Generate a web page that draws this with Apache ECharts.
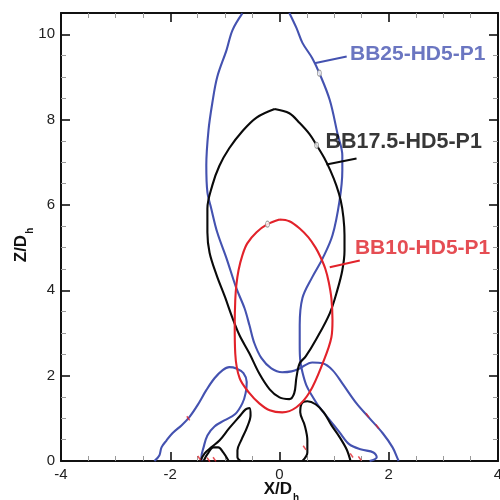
<!DOCTYPE html>
<html>
<head>
<meta charset="utf-8">
<script src="https://cdn.jsdelivr.net/npm/echarts@6/dist/echarts.min.js"></script>
<style>html,body{margin:0;padding:0;background:#fff}#c{width:500px;height:500px}</style>
</head>
<body>
<div id="c"></div>
<script>
// ---- data (X/Dh, Z/Dh) ----
const blueLeftArch = [[-2.29,0],[-2.20,0.13],[-2.16,0.32],[-2.07,0.48],[-1.96,0.65],[-1.79,0.84],[-1.65,1.03],[-1.50,1.31],[-1.34,1.66],[-1.19,1.94],[-1.04,2.13],[-0.92,2.20],[-0.79,2.17],[-0.66,2.06],[-0.60,1.85],[-0.62,1.59],[-0.68,1.35],[-0.81,1.10],[-1.01,0.95],[-1.19,0.81],[-1.32,0.60],[-1.39,0.32],[-1.43,0.09],[-1.43,0]];
const blueInnerRight = [[1.65,0],[1.78,0.09],[1.72,0.20],[1.50,0.27],[1.28,0.39],[1.10,0.67],[0.92,0.96],[0.73,1.26],[0.59,1.54],[0.49,1.78],[0.42,2.08],[0.38,2.36],[0.37,2.71],[0.37,3.18],[0.42,3.82],[0.60,4.31],[0.79,4.75],[0.97,5.29],[1.10,6.11],[1.15,6.81],[1.15,7.16],[1.06,7.68],[0.92,8.46],[0.73,9.09],[0.60,9.44],[0.42,9.80],[0.31,10.15],[0.18,10.5]];
const blueOuter = [[-0.68,10.49],[-0.86,10.10],[-0.97,9.63],[-1.14,9.00],[-1.23,8.39],[-1.30,7.75],[-1.34,6.93],[-1.32,6.30],[-1.25,5.92],[-1.14,5.36],[-0.97,4.75],[-0.79,4.05],[-0.64,3.58],[-0.55,3.18],[-0.46,2.76],[-0.33,2.41],[-0.15,2.17],[0.05,2.08],[0.22,2.10],[0.37,2.17],[0.60,2.31],[0.79,2.29],[0.97,2.13],[1.15,1.82],[1.41,1.35],[1.65,1.00],[1.89,0.65],[2.07,0.32],[2.16,0.06],[2.18,0]];
const blackLoop = [[-0.09,8.25],[0.18,8.15],[0.37,7.92],[0.55,7.66],[0.68,7.40],[0.82,7.10],[0.93,6.81],[1.04,6.46],[1.12,6.11],[1.17,5.71],[1.19,5.29],[1.19,4.93],[1.15,4.47],[1.06,4.01],[0.92,3.46],[0.68,2.87],[0.48,2.45],[0.37,2.29],[0.31,1.96],[0.27,1.59],[0.18,1.45],[0.00,1.49],[-0.18,1.68],[-0.37,2.05],[-0.55,2.52],[-0.73,2.94],[-0.86,3.35],[-1.00,3.85],[-1.15,4.35],[-1.28,4.88],[-1.32,5.36],[-1.32,5.92],[-1.23,6.46],[-1.10,6.92],[-0.92,7.33],[-0.68,7.73],[-0.42,8.05],[-0.09,8.25]];
const blackLeftArch = [[-1.45,0],[-1.37,0.18],[-1.25,0.32],[-1.10,0.48],[-0.92,0.77],[-0.73,1.05],[-0.62,1.21],[-0.55,1.24],[-0.53,1.07],[-0.60,0.77],[-0.70,0.49],[-0.77,0.25],[-0.77,0.09],[-0.71,0]];
const blackSmallArch = [[-1.39,0],[-1.32,0.16],[-1.21,0.32],[-1.12,0.32],[-1.03,0.20],[-0.93,0]];
const blackRightArch = [[0.42,0],[0.51,0.20],[0.51,0.48],[0.46,0.84],[0.38,1.14],[0.40,1.33],[0.51,1.40],[0.66,1.33],[0.81,1.14],[0.95,0.84],[1.10,0.56],[1.23,0.27],[1.30,0]];
const redLoop = [[0.00,5.66],[-0.22,5.55],[-0.42,5.36],[-0.59,5.10],[-0.68,4.82],[-0.75,4.47],[-0.79,4.12],[-0.81,3.76],[-0.82,3.18],[-0.81,2.52],[-0.73,1.94],[-0.55,1.59],[-0.37,1.35],[-0.18,1.19],[0.05,1.14],[0.31,1.26],[0.55,1.61],[0.79,2.29],[0.95,2.90],[0.97,3.30],[0.95,3.81],[0.90,4.20],[0.84,4.50],[0.75,4.78],[0.66,5.00],[0.53,5.24],[0.37,5.45],[0.18,5.62],[0.00,5.66]];
// small hollow circle markers on each contour
const markerPts = [[0.73,9.09],[0.68,7.40],[-0.22,5.55]];
// small red specks
const redSpecks = [[-1.67,1.00],[1.61,1.07],[1.79,0.81],[-1.47,0.07],[-1.19,0.04],[0.46,0.31],[1.32,0.13],[1.47,0.06],[-1.30,0.03]];
// labels and leader lines
const labelNames = ['BB25-HD5-P1','BB17.5-HD5-P1','BB10-HD5-P1'];
const labelPos = [[1.29,9.54],[0.84,7.48],[1.38,4.98]];
const leaderBlue = [[0.64,9.32],[1.23,9.48]];
const leaderBlack = [[0.86,6.95],[1.41,7.09]];
const leaderRed = [[0.92,4.54],[1.47,4.70]];
const xTicks = [-4,-2,0,2,4];
const yTicks = [0,2,4,6,8,10];

const BLUE = '#4452b0', BLACK = '#0a0a0a', RED = '#e2222a';
const FONT = 'Liberation Sans, Arial, sans-serif';

const chart = echarts.init(document.getElementById('c'));

function line(data, color, w) {
  return {type:'line', data, smooth:0.35, symbol:'none', lineStyle:{color, width:w||2.1}, z:3, silent:true};
}
const axisCommon = {
  type:'value', splitLine:{show:false},
  axisLine:{show:true, onZero:false, lineStyle:{color:'#111', width:2}},
  axisTick:{show:true, inside:true, length:9, lineStyle:{color:'#111', width:1.6}},
  minorTick:{show:true, splitNumber:4, length:5, lineStyle:{color:'#999', width:1}},
};
const nameRich = {a:{fontSize:17, fontWeight:'bold', color:'#111', fontFamily:FONT, lineHeight:20, verticalAlign:'bottom'}, s:{fontSize:10, fontWeight:'bold', color:'#111', fontFamily:FONT, lineHeight:14, verticalAlign:'bottom', padding:[0,0,-5,1]}};
const labelColors = ['#4654b2', '#050505', '#df2028'];
const labelSizes = [21,21.5,21];
const labelWeights = ['bold','bold','bold'];

chart.setOption({
  animation:false,
  grid:{left:61, right:2, top:13, bottom:39, containLabel:false, outerBoundsMode:'none'},
  xAxis:[
    Object.assign({}, axisCommon, {min:xTicks[0], max:xTicks[xTicks.length-1], interval:2, position:'bottom',
      axisLabel:{color:'#222', fontSize:15, fontFamily:FONT, margin:6},
      name:'{a|X/D}{s|h}', nameLocation:'middle', nameGap:17, nameMoveOverlap:false, nameTextStyle:{rich:nameRich, padding:[0,0,0,4]}}),
    Object.assign({}, axisCommon, {min:xTicks[0], max:xTicks[xTicks.length-1], interval:2, position:'top', axisLabel:{show:false}})
  ],
  yAxis:[
    Object.assign({}, axisCommon, {min:yTicks[0], max:10.5, interval:2, position:'left',
      axisLabel:{color:'#222', fontSize:15, fontFamily:FONT, margin:6, showMaxLabel:false},
      name:'{a|Z/D}{s|h}', nameLocation:'middle', nameRotate:90, nameGap:31, nameMoveOverlap:false, nameTextStyle:{rich:nameRich, padding:[0,16,0,0]}}),
    Object.assign({}, axisCommon, {min:yTicks[0], max:10.5, interval:2, position:'right', axisLabel:{show:false}})
  ],
  series:[
    line(blueLeftArch, BLUE), line(blueInnerRight, BLUE), line(blueOuter, BLUE),
    line(blackLoop, BLACK), line(blackLeftArch, BLACK), line(blackSmallArch, BLACK), line(blackRightArch, BLACK),
    line(redLoop, RED),
    {type:'line', data:leaderBlue, symbol:'none', lineStyle:{color:BLUE, width:2}, z:4},
    {type:'line', data:leaderBlack, symbol:'none', lineStyle:{color:BLACK, width:2}, z:4},
    {type:'line', data:leaderRed, symbol:'none', lineStyle:{color:RED, width:2}, z:4},
    {type:'scatter', data:markerPts, symbol:'circle', symbolSize:[4,6], itemStyle:{color:'#fff', borderColor:'#888', borderWidth:1}, z:5},
    {type:'scatter', data:redSpecks, symbol:'rect', symbolSize:[1.5,5], symbolRotate:35, itemStyle:{color:RED, opacity:0.8}, z:5},
    {type:'scatter', symbolSize:0, z:6, itemStyle:{color:'transparent'},
      data: labelPos.map((p,i)=>({value:p, name:labelNames[i], label:{color:labelColors[i], fontSize:labelSizes[i], fontWeight:labelWeights[i]}})),
      label:{show:true, position:'right', distance:0, fontFamily:FONT, formatter:(p)=>p.name}
    }
  ]
});
</script>
</body>
</html>
